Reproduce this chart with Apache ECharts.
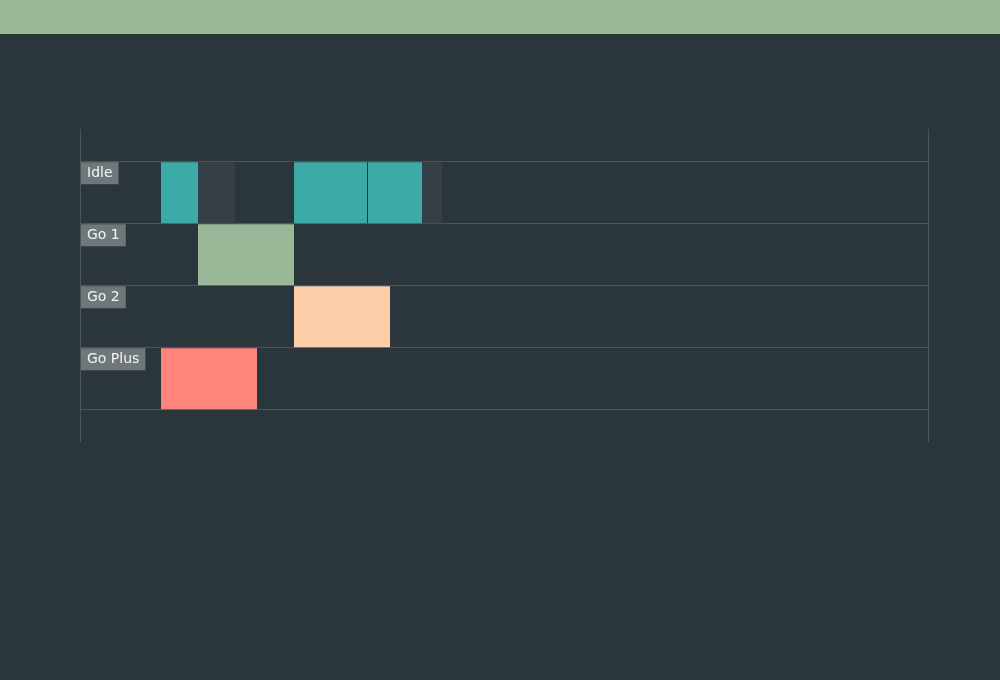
<!DOCTYPE html>
<html>
<head>
<meta charset="utf-8">
<style>
  html, body { margin: 0; padding: 0; background: #2a363b; }
  #main { width: 1000px; height: 680px; }
</style>
<script src="https://cdn.jsdelivr.net/npm/echarts@6/dist/echarts.min.js"></script>
</head>
<body>
<div id="main"></div>
<script>
// rows of the timeline
var rows = ['Idle', 'Go 1', 'Go 2', 'Go Plus'];

// running segments: row index, start, end (ms)
var runRow   = [0, 0, 0, 1, 2, 3];
var runStart = [81, 214, 288, 118, 214, 81];
var runEnd   = [118, 287, 342, 214, 310, 177];

// waiting segments on the Idle row
var waitRow   = [0, 0];
var waitStart = [118, 342];
var waitEnd   = [155, 362];

var timeMax = 848;

var rowColors = ['#3caba8', '#99b898', '#fecea8', '#ff847c'];
var waitColor = '#353f45';

var runData = runRow.map(function (r, i) { return [r, runStart[i], runEnd[i]]; });
var waitData = waitRow.map(function (r, i) { return [r, waitStart[i], waitEnd[i]]; });
var labelData = rows.map(function (name, i) { return [i, 0]; });

function renderSegment(color) {
  return function (params, api) {
    var row = api.value(0);
    var p0 = api.coord([api.value(1), row]);
    var p1 = api.coord([api.value(2), row + 1]);
    return {
      type: 'rect',
      shape: { x: p0[0], y: p0[1] + 1, width: p1[0] - p0[0], height: p1[1] - p0[1] - 1 },
      style: { fill: color || rowColors[row] }
    };
  };
}

var chart = echarts.init(document.getElementById('main'));

chart.setOption({
  backgroundColor: '#2a363b',
  animation: false,
  graphic: [{
    type: 'rect',
    left: 0, top: 0,
    shape: { width: 1000, height: 34 },
    style: { fill: '#99b898' }
  }],
  grid: { left: 80, right: 72, top: 129, bottom: 238 },
  xAxis: {
    type: 'value',
    min: 0,
    max: timeMax,
    interval: timeMax,
    axisLine: { show: false },
    axisTick: { show: false },
    axisLabel: { show: false },
    splitLine: { show: true, lineStyle: { color: '#4b555b', width: 1 } }
  },
  yAxis: {
    type: 'value',
    inverse: true,
    min: -0.52,
    max: 4.53,
    splitNumber: 5,
    axisLine: { show: false },
    axisTick: { show: false },
    axisLabel: { show: false },
    splitLine: {
      show: true,
      showMinLine: false,
      showMaxLine: false,
      lineStyle: { color: '#4b555b', width: 1 }
    }
  },
  series: [
    {
      type: 'custom',
      name: 'wait',
      renderItem: renderSegment(waitColor),
      encode: { x: [1, 2], y: 0 },
      data: waitData
    },
    {
      type: 'custom',
      name: 'run',
      renderItem: renderSegment(null),
      encode: { x: [1, 2], y: 0 },
      data: runData
    },
    {
      type: 'custom',
      name: 'labels',
      renderItem: function (params, api) {
        var row = api.value(0);
        var p = api.coord([0, row]);
        return {
          type: 'text',
          x: p[0] + 1,
          y: p[1] + 1,
          style: {
            text: rows[row],
            fill: '#f2f4f4',
            font: '14px "DejaVu Sans", sans-serif',
            backgroundColor: '#6f777b',
            padding: [4, 6, 4, 6],
            verticalAlign: 'top',
            align: 'left'
          },
          z2: 10
        };
      },
      encode: { x: 1, y: 0 },
      z: 10,
      data: labelData
    }
  ]
});
</script>
</body>
</html>
